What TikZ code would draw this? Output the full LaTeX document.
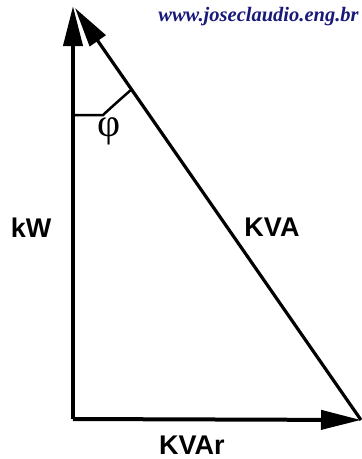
\documentclass[tikz,border=0pt]{standalone}
\usepackage{fontspec}
\setmainfont{Liberation Sans}
\newfontfamily\urlfont{Liberation Serif}
\usetikzlibrary{arrows.meta}
\definecolor{urlblue}{RGB}{25,25,120}
\begin{document}
\begin{tikzpicture}[x=1pt,y=-1pt,
  vec/.style={line width=4pt,-{Triangle[length=40pt,width=19pt]}},
  hyp/.style={line width=3.2pt,-{Triangle[length=40pt,width=19pt]}},
  lbl/.style={font=\fontsize{27}{30}\selectfont\bfseries,inner sep=0pt}]
\useasboundingbox (0,0) rectangle (362,459);
\fill[white] (0,0) rectangle (362,459);
\coordinate (O) at (73,419);
\coordinate (T) at (73,6);
\coordinate (R) at (361,420);
\coordinate (H) at (75,8);
\draw[vec] (O) -- (T);
\draw[vec] (O) -- (R);
\draw[hyp] (R) -- (H);
\coordinate (a1) at (73,115);
\coordinate (a2) at (103,115);
\coordinate (a3) at (132,89);
\draw[line width=2.5pt] (a1) -- (a2) .. controls (115,104) .. (a3);
\node[inner sep=0pt,font=\urlfont\fontsize{40}{42}\selectfont] (phi) at (109,131) {φ};
\node[lbl] (kw) at (31,228) {kW};
\node[lbl] (kva) at (272,227) {KVA};
\node[lbl] (kvar) at (192,445) {KVAr};
\node[inner sep=0pt,text=urlblue,font=\urlfont\fontsize{20.5}{22}\selectfont\bfseries\itshape] (url) at (258.5,17) {www.joseclaudio.eng.br};
\end{tikzpicture}
\end{document}
